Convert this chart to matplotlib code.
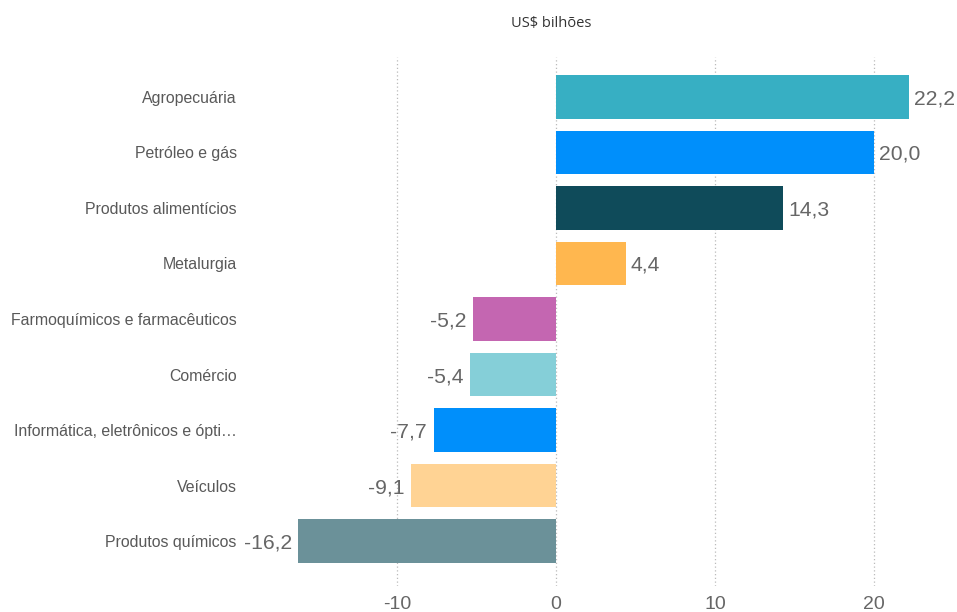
import matplotlib
matplotlib.use("Agg")
import matplotlib.pyplot as plt

categories = ["Agropecuária", "Petróleo e gás", "Produtos alimentícios", "Metalurgia",
              "Farmoquímicos e farmacêuticos", "Comércio", "Informática, eletrônicos e ópti…",
              "Veículos", "Produtos químicos"]
values = [22.2, 20.0, 14.3, 4.4, -5.2, -5.4, -7.7, -9.1, -16.2]
colors = ["#37AFC3", "#008FFB", "#0F4B5A", "#FFB74F", "#C466B1", "#85CFD8", "#008FFB", "#FFD394", "#6B9199"]
xticks = [-10, 0, 10, 20]
xticklabels = ["-10", "0", "10", "20"]
title = "US$ bilhões"

W, H = 957, 612
fig = plt.figure(figsize=(W / 100, H / 100), dpi=100)
ax_l, ax_r = 245, 957
ax_t, ax_b = 57, 586
ax = fig.add_axes([ax_l / W, 1 - ax_b / H, (ax_r - ax_l) / W, (ax_b - ax_t) / H])

px_per = 15.9
x0 = 556
ax.set_xlim((ax_l - x0) / px_per, (ax_r - x0) / px_per)
ax.set_ylim(8.81, -0.72)

ypos = list(range(len(categories)))
ax.set_axisbelow(True)
ax.grid(axis="x", linestyle=(0, (1, 2)), color="#BBBBBB", linewidth=0.9)
ax.barh(ypos, values, height=0.79, color=colors, zorder=2)

for y, v in zip(ypos, values):
    txt = f"{v:.1f}".replace(".", ",")
    if v >= 0:
        ax.text(v + 0.3, y, txt, ha="left", va="center_baseline", fontsize=15.2,
                color="#666666", family="Liberation Sans", zorder=3)
    else:
        ax.text(v - 0.4, y, txt, ha="right", va="center_baseline", fontsize=15.2,
                color="#666666", family="Liberation Sans", zorder=3)

ax.set_yticks(ypos)
ax.set_yticklabels(categories, fontsize=11.4, color="#595959", family="Liberation Sans")
ax.set_xticks(xticks)
ax.set_xticklabels(xticklabels, fontsize=14, color="#666666", family="Liberation Sans")
ax.tick_params(axis="both", length=0)
ax.tick_params(axis="y", pad=6)
ax.tick_params(axis="x", pad=7)
for s in ax.spines.values():
    s.set_visible(False)

fig.text(551 / W, 1 - 23 / H, title, ha="center", va="center", fontsize=10.5,
         color="#333333", family="Open Sans")

fig.savefig("out.png", dpi=100)
